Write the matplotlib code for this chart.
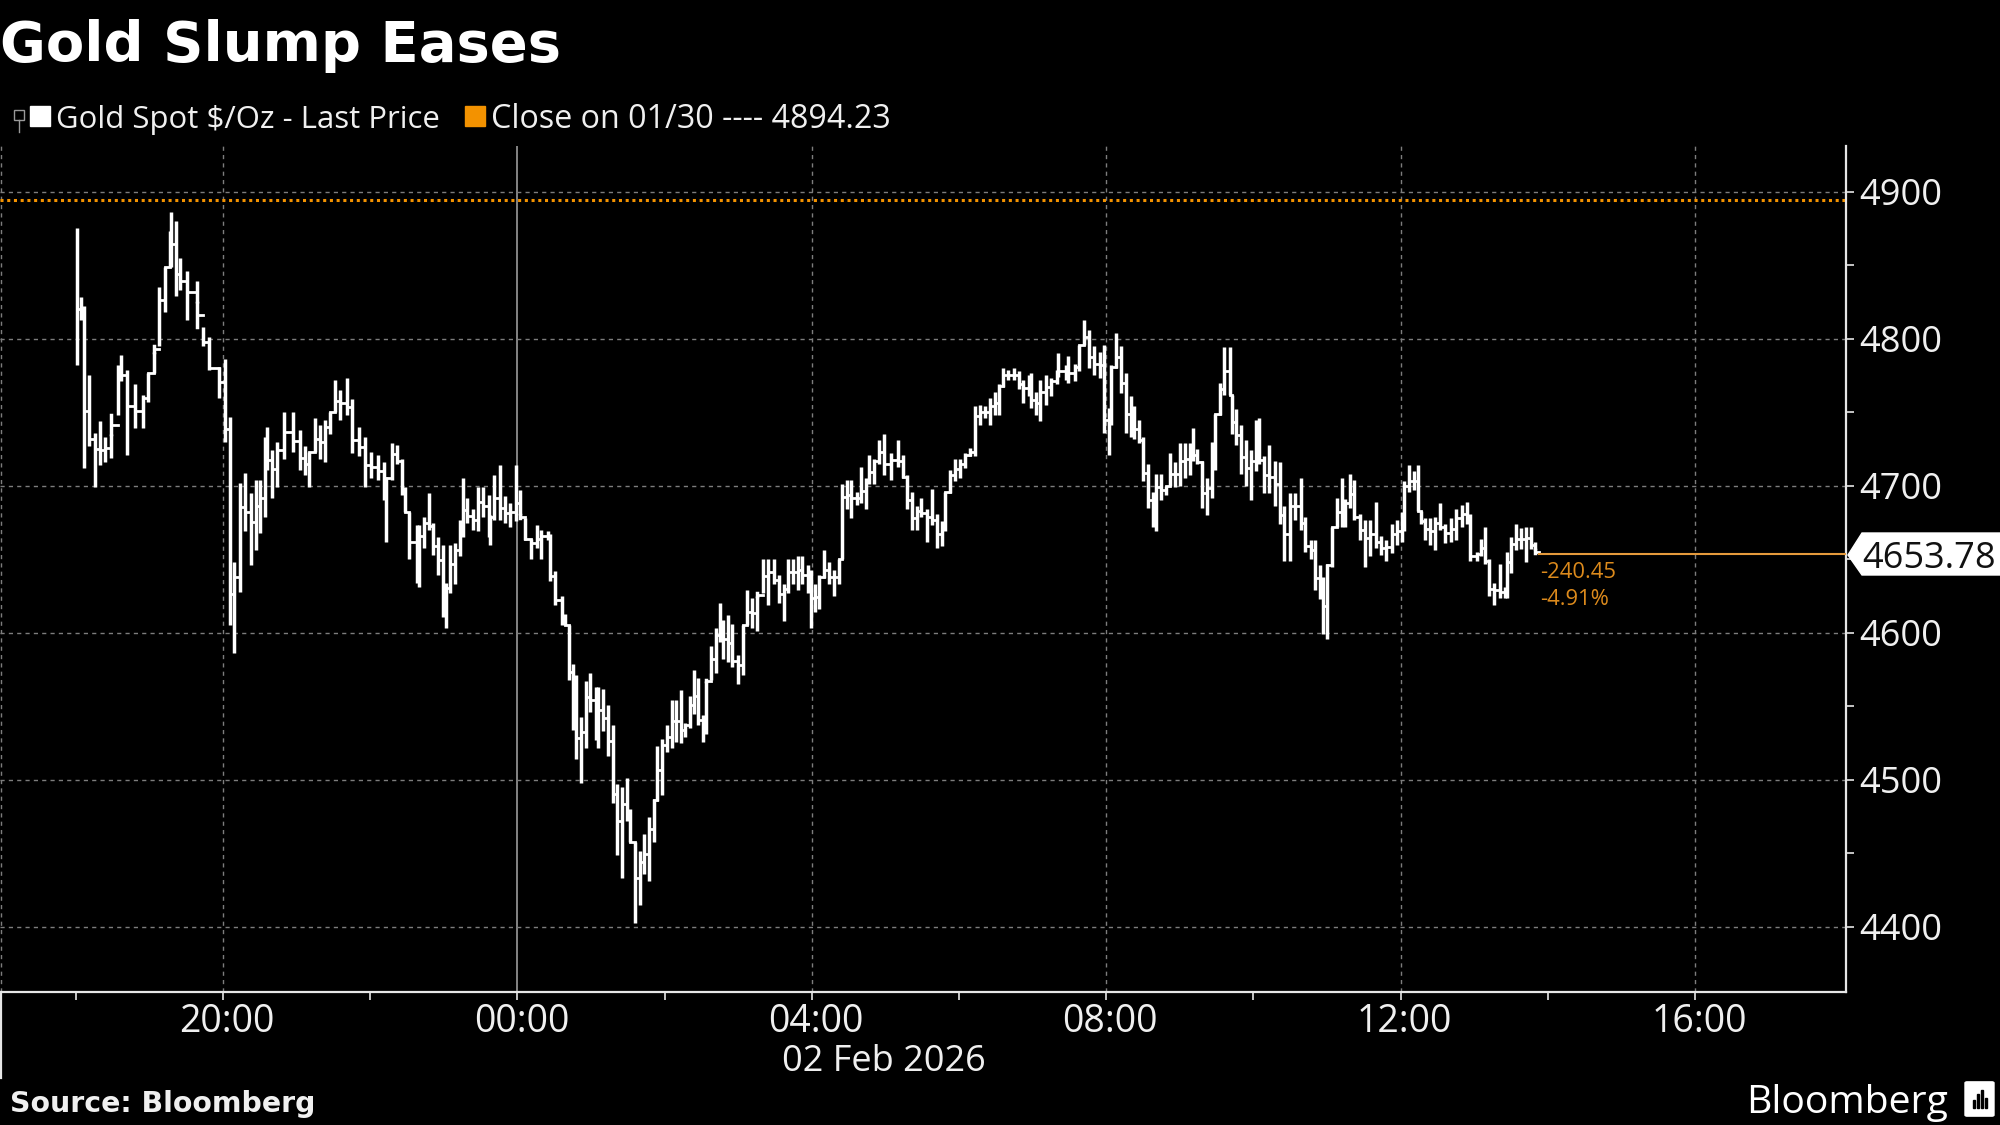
#!/usr/bin/env python3
"""Gold spot intraday chart, Bloomberg dark style."""

import matplotlib
matplotlib.use("Agg")
import matplotlib.pyplot as plt
from matplotlib.patches import FancyBboxPatch, Polygon, Rectangle
from matplotlib.transforms import ScaledTranslation

W, H = 2000, 1125
ORANGE = "#F39200"
ORANGE_TXT = "#DC8A1C"
GRID = "#7d7d7d"

TITLE = "Gold Slump Eases"
LEGEND_PRICE = "Gold Spot $/Oz - Last Price"
LEGEND_CLOSE = "Close on 01/30 ---- 4894.23"
SOURCE = "Source: Bloomberg"
DATE_LABEL = "02 Feb 2026"

PREV_CLOSE = 4894.23
LAST_PRICE = 4653.78
CHANGE_ABS = "-240.45"
CHANGE_PCT = "-4.91%"

# minutes after 18:00 on the previous day
bar_minutes = [
    1, 4, 7, 11, 16, 20, 24, 29, 34, 37, 42, 48, 55, 59, 64, 68, 73, 77, 78, 82,
    85, 91, 99, 104, 109, 117, 122, 126, 129, 134, 138, 143, 147, 150, 154, 156, 160, 164, 170, 177,
    183, 187, 190, 195, 199, 203, 207, 211, 215, 221, 225, 231, 236, 241, 246, 251, 253, 258, 262, 266,
    268, 272, 278, 280, 284, 288, 291, 295, 299, 302, 305, 309, 313, 316, 319, 324, 328, 332, 337, 338,
    341, 346, 350, 354, 359, 362, 366, 371, 376, 379, 385, 387, 391, 396, 399, 402, 405, 408, 412, 416,
    419, 424, 426, 430, 434, 438, 441, 445, 449, 452, 456, 460, 463, 467, 471, 474, 478, 482, 486, 489,
    493, 497, 501, 504, 507, 511, 514, 518, 522, 525, 528, 532, 535, 540, 544, 547, 551, 555, 560, 564,
    569, 573, 577, 581, 585, 589, 592, 597, 599, 603, 606, 610, 614, 618, 622, 625, 629, 632, 637, 640,
    644, 647, 651, 655, 659, 665, 670, 674, 678, 682, 686, 689, 694, 698, 702, 706, 709, 713, 717, 721,
    725, 729, 733, 737, 741, 745, 749, 753, 756, 760, 765, 769, 772, 777, 779, 783, 786, 791, 795, 800,
    801, 807, 809, 815, 818, 822, 826, 830, 835, 838, 842, 844, 848, 852, 856, 860, 863, 867, 870, 874,
    878, 881, 885, 889, 892, 896, 900, 904, 908, 911, 914, 918, 922, 926, 929, 933, 936, 941, 943, 946,
    950, 954, 958, 962, 965, 969, 973, 978, 982, 985, 990, 994, 999, 1002, 1007, 1010, 1014, 1017, 1020, 1024,
    1028, 1032, 1035, 1039, 1042, 1047, 1051, 1055, 1060, 1064, 1068, 1073, 1077, 1081, 1083, 1087, 1091, 1094, 1097, 1100,
    1104, 1108, 1112, 1116, 1121, 1125, 1130, 1134, 1137, 1142, 1146, 1149, 1152, 1156, 1161, 1165, 1167, 1170, 1174, 1178,
    1182, 1186, 1190, 1193,
]
bar_high = [
    4875, 4828, 4822, 4775, 4736, 4744, 4733, 4735, 4782, 4789, 4779, 4769, 4762, 4777, 4791, 4835, 4849, 4873, 4886, 4880,
    4855, 4846, 4839, 4808, 4801, 4781, 4786, 4747, 4648, 4702, 4709, 4695, 4704, 4704, 4733, 4740, 4724, 4730, 4750, 4750,
    4738, 4727, 4723, 4746, 4741, 4745, 4750, 4772, 4765, 4773, 4759, 4740, 4733, 4723, 4721, 4716, 4706, 4729, 4728, 4718,
    4699, 4682, 4673, 4673, 4679, 4695, 4675, 4665, 4660, 4634, 4660, 4661, 4677, 4705, 4692, 4684, 4699, 4699, 4694, 4680,
    4707, 4714, 4693, 4688, 4714, 4697, 4678, 4664, 4673, 4670, 4669, 4667, 4642, 4625, 4613, 4605, 4579, 4571, 4543, 4567,
    4573, 4563, 4563, 4562, 4551, 4537, 4497, 4495, 4501, 4480, 4458, 4452, 4463, 4475, 4487, 4523, 4528, 4537, 4554, 4554,
    4561, 4539, 4557, 4575, 4569, 4544, 4567, 4591, 4603, 4620, 4609, 4612, 4606, 4585, 4605, 4629, 4624, 4625, 4650, 4650,
    4650, 4639, 4633, 4650, 4650, 4652, 4652, 4646, 4643, 4633, 4639, 4656, 4648, 4643, 4650, 4701, 4704, 4704, 4696, 4713,
    4705, 4721, 4718, 4731, 4735, 4722, 4731, 4721, 4707, 4696, 4686, 4692, 4684, 4698, 4681, 4676, 4696, 4711, 4718, 4718,
    4722, 4726, 4754, 4755, 4754, 4760, 4764, 4769, 4780, 4779, 4780, 4778, 4772, 4775, 4777, 4764, 4772, 4775, 4773, 4779,
    4790, 4782, 4788, 4783, 4796, 4813, 4806, 4795, 4791, 4796, 4753, 4782, 4804, 4795, 4777, 4761, 4754, 4745, 4733, 4715,
    4696, 4708, 4708, 4700, 4722, 4716, 4729, 4729, 4729, 4739, 4725, 4717, 4705, 4730, 4749, 4770, 4794, 4794, 4762, 4752,
    4741, 4731, 4724, 4745, 4746, 4720, 4728, 4717, 4716, 4686, 4695, 4695, 4705, 4679, 4663, 4663, 4646, 4638, 4647, 4672,
    4692, 4705, 4691, 4708, 4704, 4681, 4677, 4677, 4689, 4666, 4663, 4674, 4677, 4682, 4703, 4714, 4710, 4714, 4683, 4678,
    4678, 4679, 4688, 4674, 4678, 4684, 4687, 4689, 4681, 4655, 4664, 4672, 4650, 4634, 4647, 4631, 4655, 4665, 4674, 4671,
    4672, 4672, 4662, 4654,
]
bar_low = [
    4782, 4813, 4712, 4727, 4699, 4714, 4716, 4719, 4748, 4771, 4721, 4739, 4739, 4757, 4777, 4795, 4818, 4849, 4849, 4829,
    4833, 4813, 4824, 4795, 4779, 4760, 4730, 4605, 4586, 4628, 4669, 4646, 4656, 4668, 4679, 4711, 4692, 4699, 4718, 4723,
    4711, 4707, 4699, 4723, 4718, 4716, 4735, 4750, 4745, 4748, 4722, 4720, 4699, 4705, 4704, 4690, 4662, 4704, 4715, 4694,
    4682, 4650, 4634, 4631, 4658, 4670, 4653, 4639, 4611, 4603, 4627, 4633, 4652, 4665, 4675, 4670, 4669, 4679, 4665, 4660,
    4677, 4677, 4675, 4672, 4676, 4680, 4663, 4650, 4658, 4650, 4663, 4635, 4619, 4605, 4605, 4568, 4534, 4514, 4498, 4522,
    4546, 4527, 4522, 4533, 4516, 4484, 4449, 4433, 4472, 4458, 4403, 4415, 4436, 4431, 4458, 4486, 4490, 4519, 4522, 4526,
    4525, 4529, 4535, 4545, 4537, 4526, 4531, 4568, 4573, 4594, 4582, 4580, 4577, 4565, 4571, 4605, 4603, 4601, 4627, 4619,
    4633, 4620, 4608, 4627, 4633, 4629, 4633, 4627, 4603, 4614, 4616, 4637, 4633, 4625, 4633, 4650, 4684, 4678, 4687, 4688,
    4684, 4701, 4701, 4715, 4707, 4704, 4713, 4705, 4684, 4670, 4670, 4679, 4662, 4673, 4658, 4659, 4669, 4695, 4703, 4705,
    4712, 4720, 4720, 4741, 4746, 4741, 4748, 4748, 4767, 4772, 4772, 4766, 4756, 4761, 4753, 4748, 4744, 4755, 4761, 4769,
    4774, 4772, 4770, 4771, 4778, 4796, 4780, 4775, 4773, 4736, 4721, 4741, 4780, 4763, 4736, 4733, 4732, 4729, 4703, 4685,
    4672, 4669, 4690, 4694, 4700, 4699, 4700, 4705, 4707, 4717, 4715, 4685, 4680, 4692, 4711, 4748, 4762, 4762, 4735, 4728,
    4708, 4700, 4690, 4710, 4715, 4695, 4695, 4686, 4674, 4649, 4649, 4677, 4670, 4655, 4650, 4629, 4623, 4599, 4596, 4645,
    4672, 4672, 4672, 4685, 4677, 4663, 4645, 4652, 4658, 4653, 4649, 4654, 4660, 4662, 4669, 4696, 4697, 4683, 4674, 4663,
    4660, 4656, 4670, 4661, 4662, 4663, 4672, 4674, 4649, 4649, 4652, 4647, 4625, 4619, 4624, 4624, 4624, 4641, 4656, 4657,
    4648, 4657, 4656, 4654,
]

# axis ticks, in minutes after 18:00
x_major = [120, 360, 600, 840, 1080, 1320]
x_labels = ["20:00", "00:00", "04:00", "08:00", "12:00", "16:00"]
x_minor = [0, 240, 480, 720, 960, 1200]
y_major = [4400, 4500, 4600, 4700, 4800, 4900]
y_minor = [4450, 4550, 4650, 4750, 4850]

plt.rcParams["font.family"] = ["Open Sans", "DejaVu Sans"]

fig = plt.figure(figsize=(20, 11.25), dpi=100, facecolor="black")
ax = fig.add_axes([0, 1 - 992 / H, 1846 / W, (992 - 146) / H], facecolor="black")
ax.set_xlim(-61.8, 1443.2)
ax.set_ylim(4355.8, 4931)


def px(x, y):
    return x / W, 1 - y / H


# grid
for t in x_major:
    if t == 360:
        ax.axvline(t, color="#a8a8a8", lw=1.1, zorder=1)
    else:
        ax.axvline(t, color=GRID, lw=1, ls=(0, (3, 3)), zorder=1)
ax.axvline(-60.8, color=GRID, lw=1, ls=(0, (3, 3)), zorder=1)
for v in y_major:
    ax.axhline(v, color=GRID, lw=1, ls=(0, (3, 3)), zorder=1)

ax.axhline(PREV_CLOSE, color=ORANGE, lw=2.2, ls=(0, (1, 1.2)), zorder=2)

# price bars, joined with small steps
n_bars = len(bar_minutes)
for i in range(n_bars):
    t, hi, lo = bar_minutes[i], bar_high[i], bar_low[i]
    ax.plot([t, t], [lo, hi], color="white", lw=2.5, solid_capstyle="butt", zorder=3)
    if i < n_bars - 1:
        t2, hi2, lo2 = bar_minutes[i + 1], bar_high[i + 1], bar_low[i + 1]
        join = (max(lo, lo2) + min(hi, hi2)) / 2
        if lo2 > hi:
            ax.plot([t, t], [hi, lo2], color="white", lw=2.5, zorder=3)
        if hi2 < lo:
            ax.plot([t, t], [hi2, lo], color="white", lw=2.5, zorder=3)
        ax.plot([t, t2], [join, join], color="white", lw=2.0, zorder=3)

ax.plot([bar_minutes[-1], ax.get_xlim()[1]], [LAST_PRICE, LAST_PRICE], color="#E59A3C", lw=1.5, zorder=3)
ax.text(bar_minutes[-1] + 1, 4641, CHANGE_ABS, color=ORANGE_TXT, fontsize=15.8, va="center", ha="left")
ax.text(bar_minutes[-1] + 1, 4623, CHANGE_PCT, color=ORANGE_TXT, fontsize=15.8, va="center", ha="left")

# axes
for side in ["left", "top"]:
    ax.spines[side].set_visible(False)
for side in ["right", "bottom"]:
    ax.spines[side].set_color("#e6e6e6")
    ax.spines[side].set_linewidth(1.6)
ax.yaxis.tick_right()
ax.set_xticks(x_major)
ax.set_xticklabels(x_labels)
ax.set_xticks(x_minor, minor=True)
ax.set_yticks(y_major)
ax.set_yticks(y_minor, minor=True)
ax.tick_params(axis="x", which="both", length=6, width=1.2, color="#e6e6e6", labelcolor="#f0f0f0", labelsize=27, pad=2)
ax.tick_params(axis="y", which="both", length=5.5, width=1.2, color="#e6e6e6", labelcolor="#f0f0f0", labelsize=26, pad=4)
ax.tick_params(axis="y", which="minor", right=True)

# labels sit a little to the right of their ticks
for label in ax.get_xticklabels():
    label.set_transform(label.get_transform() + ScaledTranslation(4 / 100, 0, fig.dpi_scale_trans))

# left date separator below the axis
fig.add_artist(plt.Line2D([1 / W, 1 / W], [1 - 992 / H, 1 - 1078 / H], color="#e6e6e6", lw=1.6))

fig.text(*px(884, 1062), DATE_LABEL, color="#f0f0f0", fontsize=26, ha="center", va="center")

# header
fig.text(*px(0, 46), TITLE, color="white", fontsize=40.3, fontweight="bold", family="DejaVu Sans", ha="left", va="center")
fig.text(*px(56, 120), LEGEND_PRICE, color="#f0f0f0", fontsize=22.4, ha="left", va="center")
fig.text(*px(491, 120), LEGEND_CLOSE, color="#f0f0f0", fontsize=23.2, ha="left", va="center")
fig.add_artist(Rectangle(px(30, 126), 20 / W, 20 / H, transform=fig.transFigure, color="white"))
fig.add_artist(Rectangle(px(465, 126), 20 / W, 20 / H, transform=fig.transFigure, color=ORANGE))
fig.add_artist(Rectangle(px(14, 120), 10 / W, 10 / H, transform=fig.transFigure, fill=False, ec="#999999", lw=1))
fig.add_artist(plt.Line2D([19 / W, 19 / W], [1 - 120 / H, 1 - 132 / H], color="#999999", lw=1))

# last price tag
tag = [px(1848, 555), px(1862, 533), px(2000, 533), px(2000, 575), px(1862, 575)]
fig.add_artist(Polygon(tag, closed=True, transform=fig.transFigure, color="white", zorder=5))
fig.text(*px(1862, 559), f"{LAST_PRICE:.2f}", color="#111111", fontsize=26, ha="left", va="center", zorder=6)

# footer
fig.text(*px(10, 1104), SOURCE, color="#f0f0f0", fontsize=20.4, fontweight="bold", family="DejaVu Sans", ha="left", va="center")
fig.text(*px(1746, 1103), "Bloomberg", color="white", fontsize=28.2, fontweight="medium", ha="left", va="center")
fig.add_artist(FancyBboxPatch(px(1967, 1115), 25 / W, 32 / H, boxstyle="round,pad=0.001", transform=fig.transFigure, color="white"))
for x_px, h_px in [(1973, 8), (1977, 14), (1981, 18), (1985, 10)]:
    fig.add_artist(Rectangle(px(x_px, 1108), 2 / W, h_px / H, transform=fig.transFigure, color="black", zorder=6))

fig.savefig("out.png", dpi=100, facecolor="black")
